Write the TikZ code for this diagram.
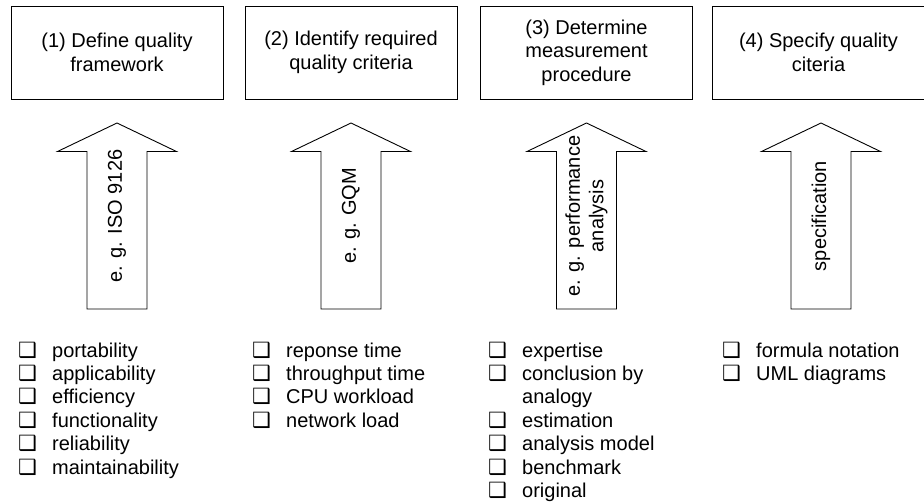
\documentclass[tikz,border=0pt]{standalone}
\usepackage{fontspec}
\setmainfont{Liberation Sans}
\newfontfamily\symfont{DejaVu Sans}
\newcommand{\cbx}{{\symfont\bfseries\fontsize{21}{21}\selectfont ❑}}
\begin{document}
\begin{tikzpicture}[x=1pt,y=-1pt,
  stepbox/.style={draw, line width=0.9pt, minimum width=212pt, minimum height=93pt, align=center, inner sep=0pt, font=\fontsize{20}{23.4}\selectfont},
  blockarrow/.style={draw, line width=0.9pt, line join=miter},
  arrowtext/.style={rotate=90, align=center, inner sep=0pt, font=\fontsize{20}{23.4}\selectfont},
  itemlist/.style={anchor=base west, inner sep=0pt, font=\fontsize{20}{23.4}\selectfont}]
\useasboundingbox (0,0) rectangle (924,503);

% step boxes
\node[stepbox] (b1) at (117,52.5) {(1) Define quality\\framework};
\node[stepbox] (b2) at (351,52.5) {(2) Identify required\\quality criteria};
\node[stepbox] (b3) at (586.5,52.5) {(3) Determine\\measurement\\procedure};
\node[stepbox] (b4) at (818.5,52.5) {(4) Specify quality\\citeria};

% block arrows
\foreach \cx in {117,351,586.5,821}{
  \draw[blockarrow] (\cx-30,309) -- (\cx-30,151.5) -- (\cx-59.5,151.5) -- (\cx,123)
    -- (\cx+59.5,151.5) -- (\cx+30,151.5) -- (\cx+30,309) -- cycle;
}
\node[arrowtext] (t1) at (117,216) {e. g. ISO 9126};
\node[arrowtext] (t2) at (351,216) {e. g. GQM};
\node[arrowtext] (t3) at (586.5,216) {e. g. performance\\analysis};
\node[arrowtext] (t4) at (821,216) {specification};

% lists
\node[itemlist] (l1) at (18,357) {\begin{tabular}[t]{@{}p{34pt}@{}l@{}}
\cbx & portability\\
\cbx & applicability\\
\cbx & efficiency\\
\cbx & functionality\\
\cbx & reliability\\
\cbx & maintainability
\end{tabular}};
\node[itemlist] (l2) at (252,357) {\begin{tabular}[t]{@{}p{34pt}@{}l@{}}
\cbx & reponse time\\
\cbx & throughput time\\
\cbx & CPU workload\\
\cbx & network load
\end{tabular}};
\node[itemlist] (l3) at (488,357) {\begin{tabular}[t]{@{}p{34pt}@{}l@{}}
\cbx & expertise\\
\cbx & conclusion by\\
 & analogy\\
\cbx & estimation\\
\cbx & analysis model\\
\cbx & benchmark\\
\cbx & original
\end{tabular}};
\node[itemlist] (l4) at (722,357) {\begin{tabular}[t]{@{}p{34pt}@{}l@{}}
\cbx & formula notation\\
\cbx & UML diagrams
\end{tabular}};
\end{tikzpicture}
\end{document}
